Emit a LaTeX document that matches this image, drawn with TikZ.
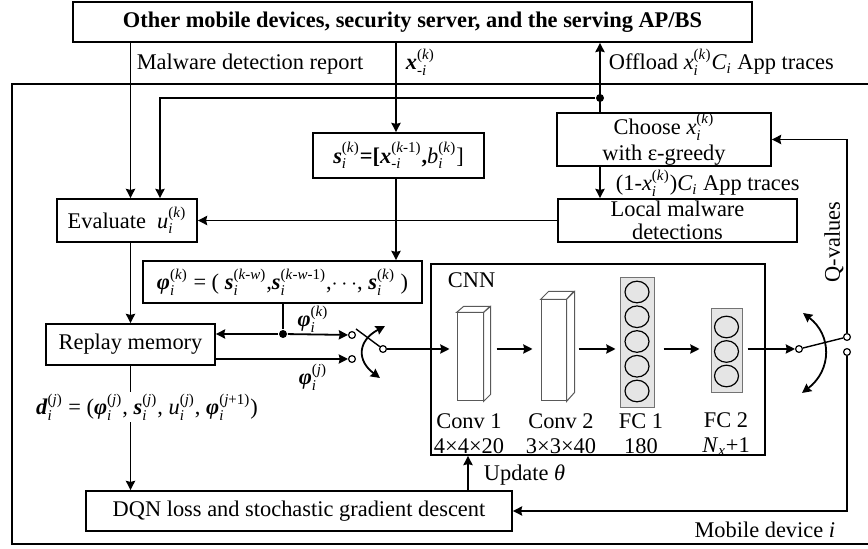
\documentclass[tikz,border=0pt]{standalone}
\usepackage{fontspec}
\setmainfont{Liberation Serif}
\usetikzlibrary{arrows.meta}
\newcommand\bi[1]{\textbf{\textit{#1}}}
\newcommand\ti[1]{\textit{#1}}
\newcommand\scr{\fontsize{7.5}{8}\selectfont}
\newcommand\ssup[2]{\ensuremath{_{\mbox{\scr #1}}^{\mbox{\scr #2}}}}
\newcommand\ssub[1]{\ensuremath{_{\mbox{\scr #1}}}}
\newcommand\supik{\ssup{\ti{i}}{(\ti{k})}}
\newcommand\supij{\ssup{\ti{i}}{(\ti{j})}}
\begin{document}
\begin{tikzpicture}[x=0.5pt,y=-0.5pt,
  font=\fontsize{11.2}{12.5}\selectfont,
  line width=0.9pt,
  tip/.tip={Stealth[length=4.6pt,width=4.6pt,inset=0.5pt]},
  arr/.style={-tip},
  darr/.style={tip-tip},
  box/.style={draw, rectangle, inner sep=0pt, align=center},
  dot/.style={circle, fill, inner sep=0pt, minimum size=4pt},
  term/.style={circle, draw, fill=white, inner sep=0pt, minimum size=3.4pt, line width=0.6pt},
  face/.style={draw=black!65, line width=0.5pt, fill=white},
  fcbox/.style={draw=black!55, line width=0.5pt, fill=black!10, inner sep=0pt},
  neuron/.style={draw, line width=0.6pt},
  lbl/.style={inner sep=1pt, align=center}]
\useasboundingbox (0,0) rectangle (868,549);

% x positions of the vertical connectors
\coordinate (cA) at (130.5,0);
\coordinate (cB) at (160,0);
\coordinate (cX) at (396,0);
\coordinate (cO) at (600,0);
\coordinate (cU) at (468,0);

% frame of the mobile device (open to the right)
\draw (868,84) -- (12,84) -- (12,544) -- (868,544);

% boxes
\node[box, minimum width=679*0.5pt, minimum height=40*0.5pt] (top) at (412.5,22)
  {\textbf{Other mobile devices, security server, and the serving AP/BS}};
\node[box, minimum width=214*0.5pt, minimum height=53*0.5pt] (choose) at (664,139.5)
  {Choose \ti{x}\supik\\[0.5pt]with ε-greedy};
\node[box, minimum width=239*0.5pt, minimum height=43*0.5pt] (local) at (677.5,220.5)
  {Local malware\\[-1pt]detections};
\node[box, minimum width=140*0.5pt, minimum height=43*0.5pt] (evalu) at (127,220.5)
  {Evaluate\ \ \ti{u}\supik};
\node[box, minimum width=171*0.5pt, minimum height=45*0.5pt] (sbox) at (398.5,155.5)
  {\bi{s}\supik\textbf{=[}\bi{x}\ssup{-\ti{i}}{(\ti{k}-1)}\textbf{,}\ti{b}\supik]};
\node[box, minimum width=279*0.5pt, minimum height=42*0.5pt] (phi) at (282.5,282)
  {\bi{φ}\supik\ = ( \bi{s}\ssup{\ti{i}}{(\ti{k}-\ti{w})},\bi{s}\ssup{\ti{i}}{(\ti{k}-\ti{w}-1)},$\cdots$, \bi{s}\supik\ )};
\node[box, minimum width=169*0.5pt, minimum height=41*0.5pt] (replay) at (130.5,344.5)
  {Replay memory};
\node[box, minimum width=334*0.5pt, minimum height=191*0.5pt] (cnn) at (598,359.5) {};
\node[box, minimum width=426*0.5pt, minimum height=40*0.5pt] (dqn) at (299,511)
  {DQN loss and stochastic gradient descent};

% CNN layers
\node[face, minimum width=26*0.5pt, minimum height=88*0.5pt, inner sep=0pt] (conv1) at (470,357) {};
\draw[face] (conv1.north west) -- ++(7,-6) -- ++(26,0) -- (conv1.north east) -- cycle;
\draw[face] (conv1.north east) -- ++(7,-6) -- ++(0,88) -- (conv1.south east) -- cycle;
\node[face, minimum width=25*0.5pt, minimum height=101*0.5pt, inner sep=0pt] (conv2) at (553.5,350.5) {};
\draw[face] (conv2.north west) -- ++(8,-8) -- ++(25,0) -- (conv2.north east) -- cycle;
\draw[face] (conv2.north east) -- ++(8,-8) -- ++(0,101) -- (conv2.south east) -- cycle;
\node[fcbox, minimum width=34*0.5pt, minimum height=130*0.5pt] (fc1) at (637,343) {};
\foreach \k in {0,...,4}
  \draw[neuron] (637,292+24.75*\k) ellipse [x radius=6pt, y radius=5.4pt];
\node[fcbox, minimum width=31*0.5pt, minimum height=84*0.5pt] (fc2) at (726.5,351) {};
\foreach \k in {0,1,2}
  \draw[neuron] (726.5,327+24.5*\k) ellipse [x radius=6pt, y radius=5.4pt];

\node[lbl, anchor=west] (cnnl) at (445,280) {CNN};
\node[lbl] (l1) at (469,434) {Conv 1\\4×4×20};
\node[lbl] (l2) at (561,434) {Conv 2\\3×3×40};
\node[lbl] (l3) at (641,434) {FC 1\\180};
\node[lbl] (l4) at (726,434) {FC 2\\\ti{N}\ssub{\ti{x}}+1};

% input switch
\node[term] (c1) at (352,335) {};
\node[term] (c2) at (352,359) {};
\node[term] (c3) at (383,349) {};
\draw[line width=0.7pt] (c3) -- (356,329);
\draw[darr] (385,326) .. controls (357,341) and (357,361) .. (380,378);
% output switch
\node[term] (c4) at (799,349) {};
\node[term] (c5) at (847,337) {};
\node[term] (c6) at (847,352) {};
\draw[line width=0.7pt] (c4) -- (c5);
\draw[darr] (803,313) .. controls (832,335) and (832,370) .. (802,393);

% junction dots
\node[dot] (jo) at (600,98) {};
\node[dot] (jp) at (283,334) {};

% connectors
\draw[arr] (top.south -| cA) -- (evalu.north -| cA);
\draw[arr] (top.south -| cX) -- (sbox.north -| cX);
\draw[arr] (choose.north -| cO) -- (top.south -| cO);
\draw[arr] (jo) -- (jo -| cB) -- (evalu.north -| cB);
\draw[arr] (choose.south -| cO) -- (local.north -| cO);
\draw[arr] (local.west) -- (evalu.east |- local.west);
\draw[arr] (sbox.south -| cX) -- (phi.north -| cX);
\draw[arr] (evalu.south -| cA) -- (replay.north -| cA);
\draw (phi.south -| jp) -- (jp);
\draw[arr] (jp) -- (replay.east |- jp);
\draw[arr] (jp) -- (c1);
\draw[arr] (replay.east |- c2) -- (c2);
\draw[arr, shorten >=3.5pt] (c3) -- (conv1.west |- c3);
\draw[arr, shorten <=6.5pt, shorten >=4pt] (conv1.east |- c3) -- (conv2.west |- c3);
\draw[arr, shorten <=6pt, shorten >=2pt] (conv2.east |- c3) -- (fc1.west |- c3);
\draw[arr, shorten <=4.5pt, shorten >=5.5pt] (fc1.east |- c3) -- (fc2.west |- c3);
\draw[arr, shorten <=2.5pt] (fc2.east |- c4) -- (c4);
\draw[arr] (c5) -- (c5 |- choose.east) -- (choose.east);
\draw[arr] (c6) -- (c6 |- dqn.east) -- (dqn.east);
\draw[arr] (dqn.north -| cU) -- (cnn.south -| cU);
\draw[arr] (replay.south -| cA) -- (dqn.north -| cA);

% labels
\node[lbl] (lmal) at (250,64) {Malware detection report};
\node[lbl, anchor=west] (lx) at (403,62) {\bi{x}\ssup{-\ti{i}}{(\ti{k})}};
\node[lbl, anchor=west] (loff) at (606,62) {Offload \ti{x}\supik\ti{C}\ssub{\ti{i}} App traces};
\node[lbl, anchor=west] (lrest) at (613,183) {(1-\ti{x}\supik)\ti{C}\ssub{\ti{i}} App traces};
\node[lbl, rotate=90] (lq) at (834,242) {Q-values};
\node[lbl] (lpk) at (313,319) {\bi{φ}\supik};
\node[lbl] (lpj) at (313,377) {\bi{φ}\supij};
\node[lbl, fill=white] (ld) at (147,407)
  {\bi{d}\supij\ = (\bi{φ}\supij, \bi{s}\supij, \ti{u}\supij, \bi{φ}\ssup{\ti{i}}{(\ti{j}+1)})};
\node[lbl, anchor=west] (lup) at (481,475) {Update \ti{θ}};
\node[lbl, anchor=east] (lmob) at (838,530) {Mobile device \ti{i}};
\end{tikzpicture}
\end{document}
